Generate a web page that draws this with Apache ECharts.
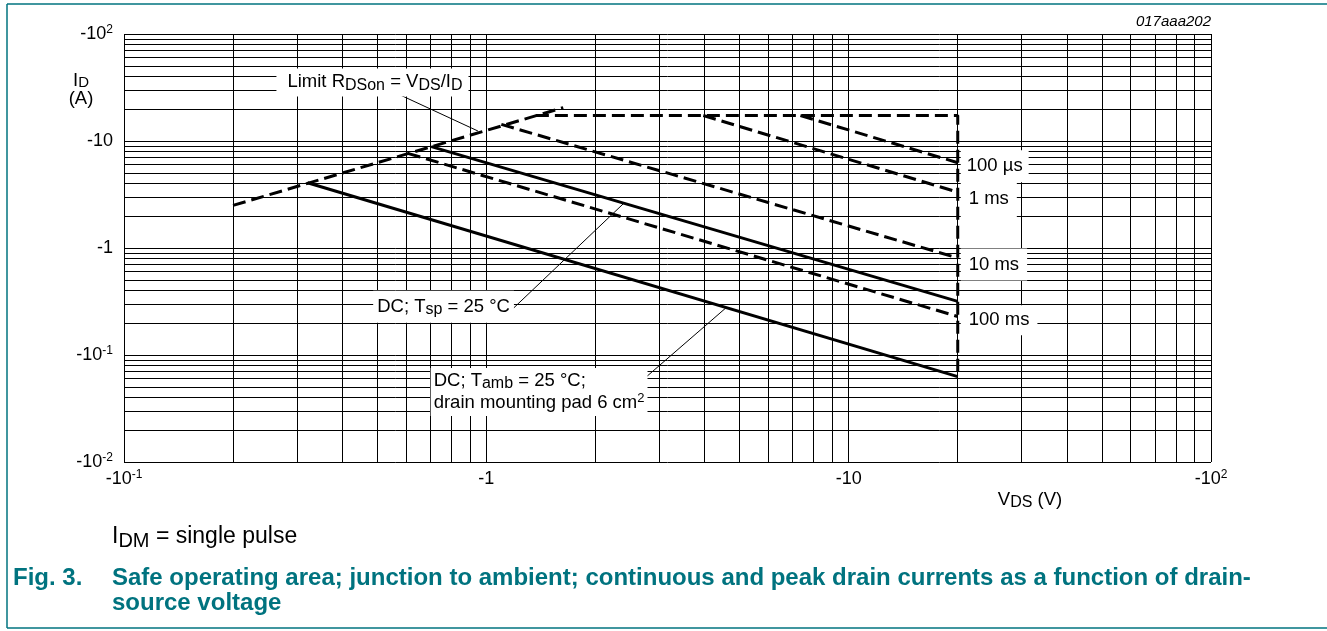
<!DOCTYPE html>
<html><head><meta charset="utf-8">
<script src="https://cdn.jsdelivr.net/npm/echarts@6/dist/echarts.min.js"></script>
<style>html,body{margin:0;padding:0;background:#fff}#c{width:1327px;height:631px}</style>
</head><body><div id="c"></div>
<script>
// ---- tick labels ----
const xTickValues = [0.1, 1, 10, 100];
const xTickLabels = ['-10{sup|-1}', '-1', '-10', '-10{sup|2}'];
const yTickValues = [0.01, 0.1, 1, 10, 100];
const yTickLabels = ['-10{sup|-2}', '-10{sup|-1}', '-1', '-10', '-10{sup|2}'];

// ---- log grid lines (values) ----
const xGridValues = [0.1,0.2,0.3,0.4,0.5,0.6,0.7,0.8,0.9,1,2,3,4,5,6,7,8,9,10,20,30,40,50,60,70,80,90,100];
const yGridValues = [0.01,0.02,0.03,0.04,0.05,0.06,0.07,0.08,0.09,0.1,0.2,0.3,0.4,0.5,0.6,0.7,0.8,0.9,1,2,3,4,5,6,7,8,9,10,20,30,40,50,60,70,80,90,100];

// ---- curves: [V_DS (V), I_D (A)] magnitudes ----
const limitRdson    = [[0.2, 2.5], [1.63, 20.5]];
const pulseEnvelope = [[1.37, 17.3], [20, 17.3], [20, 0.0628]];
const tp100us       = [[7.36, 17.3], [20, 6.27]];
const tp1ms         = [[3.97, 17.3], [20, 3.33]];
const tp10ms        = [[1.10, 14.3], [20, 0.807]];
const tp100ms       = [[0.607, 7.67], [20, 0.229]];
const dcTsp         = [[0.705, 8.85], [20, 0.317]];
const dcTamb        = [[0.321, 4.07], [20, 0.0628]];

const FONT = '"Liberation Sans", Arial, Helvetica, sans-serif';
const TEAL = '#00737f';

function tickFmt(vals, labels) {
  return function (v) {
    const i = vals.findIndex(t => Math.abs(Math.log10(t) - Math.log10(v)) < 1e-6);
    return i >= 0 ? labels[i] : '';
  };
}

const annRich = {
  sub: { fontSize: 16, lineHeight: 12, verticalAlign: 'bottom', fontFamily: FONT, color: '#000' },
  sup: { fontSize: 13, lineHeight: 12, verticalAlign: 'top', fontFamily: FONT, color: '#000' }
};
function ann(coord, text, position, padding, distance) {
  return {
    coord: coord, symbol: 'circle', symbolSize: 0,
    label: {
      show: true, formatter: text, position: position, distance: distance || 0,
      color: '#000', fontSize: 18.5, lineHeight: 22, fontFamily: FONT,
      backgroundColor: '#fff', padding: padding, rich: annRich, align: position === 'inside' ? 'center' : 'left'
    }
  };
}

const dashed = { color: '#000', width: 3, type: [13, 6] };
const solid = { color: '#000', width: 3, type: 'solid' };
function curve(name, data, style) {
  return { name: name, type: 'line', data: data, showSymbol: false, symbol: 'none',
    lineStyle: style, z: 4, silent: true, animation: false };
}

const tickSup = { fontSize: 12, lineHeight: 12, verticalAlign: 'top', fontFamily: FONT, color: '#000' };

const chart = echarts.init(document.getElementById('c'), null, { renderer: 'canvas' });
chart.setOption({
  animation: false,
  backgroundColor: '#fff',
  grid: { left: 124, right: 116, top: 34, bottom: 169, containLabel: false, outerBoundsMode: 'none' },
  xAxis: {
    type: 'log', logBase: 10, min: 0.1, max: 100,
    axisLine: { show: false }, axisTick: { show: false }, splitLine: { show: false },
    axisLabel: { show: true, showMinLabel: true, showMaxLabel: true, margin: 7,
      color: '#000', fontSize: 18, lineHeight: 21, fontFamily: FONT,
      formatter: tickFmt(xTickValues, xTickLabels), rich: { sup: tickSup } }
  },
  yAxis: {
    type: 'log', logBase: 10, min: 0.01, max: 100,
    axisLine: { show: false }, axisTick: { show: false }, splitLine: { show: false },
    axisLabel: { show: true, showMinLabel: true, showMaxLabel: true, margin: 11,
      color: '#000', fontSize: 18, lineHeight: 21, fontFamily: FONT,
      formatter: tickFmt(yTickValues, yTickLabels), rich: { sup: tickSup } }
  },
  series: [
    { name: 'grid', type: 'line', data: [], z: 1, silent: true, animation: false,
      markLine: { silent: true, animation: false, symbol: ['none', 'none'], label: { show: false },
        emphasis: { disabled: true },
        lineStyle: { color: '#000', width: 1, type: 'solid' },
        data: xGridValues.map(v => ({ xAxis: v })).concat(yGridValues.map(v => ({ yAxis: v }))) } },
    curve('Limit RDSon', limitRdson, dashed),
    curve('IDM envelope', pulseEnvelope, dashed),
    curve('100 µs', tp100us, dashed),
    curve('1 ms', tp1ms, dashed),
    curve('10 ms', tp10ms, dashed),
    curve('100 ms', tp100ms, dashed),
    curve('DC Tsp', dcTsp, solid),
    curve('DC Tamb', dcTamb, solid),
    { name: 'annotations', type: 'line', data: [], z: 3, silent: true, animation: false,
      markLine: { silent: true, animation: false, symbol: ['none', 'none'], label: { show: false },
        emphasis: { disabled: true },
        lineStyle: { color: '#000', width: 1, type: 'solid' },
        data: [
          [{ coord: [0.559, 28.4] }, { coord: [0.948, 12.4] }],
          [{ coord: [1.176, 0.265] }, { coord: [2.41, 2.67] }],
          [{ coord: [2.51, 0.0471] }, { coord: [4.58, 0.275] }]
        ] },
      markPoint: { silent: true, animation: false,
        data: [
          ann([0.485, 35.3], 'Limit R{sub|DSon} = V{sub|DS}/I{sub|D}', 'inside', [3, 6, 3, 11]),
          ann([20, 5.8], '100 µs', 'right', [5, 6], 3),
          ann([20, 2.85], '1 ms', 'right', [7, 8], 3),
          ann([20, 0.70], '10 ms', 'right', [5, 8], 3),
          ann([20, 0.211], '100 ms', 'right', [4, 8], 3),
          ann([0.762, 0.2825], 'DC; T{sub|sp} = 25 °C', 'inside', [5, 4]),
          ann([0.702, 0.0451], 'DC; T{sub|amb} = 25 °C;\ndrain mounting pad 6 cm{sup|2}', 'right', [2, 3], 0)
        ] } }
  ],
  graphic: [
    { type: 'line', silent: true, shape: { x1: 7, y1: 4, x2: 1327, y2: 4 }, style: { stroke: TEAL, lineWidth: 1.5 } },
    { type: 'line', silent: true, shape: { x1: 7, y1: 4, x2: 7, y2: 628 }, style: { stroke: TEAL, lineWidth: 1.5 } },
    { type: 'line', silent: true, shape: { x1: 7, y1: 628, x2: 1327, y2: 628 }, style: { stroke: TEAL, lineWidth: 1.5 } },
    { type: 'text', silent: true, x: 1211, y: 22, style: { text: '017aaa202', align: 'right', verticalAlign: 'middle',
        font: 'italic 15px ' + FONT, fill: '#000' } },
    { type: 'text', silent: true, x: 81, y: 72, style: { text: 'I{sub|D}\n(A)', align: 'center', verticalAlign: 'top',
        fontSize: 18.5, lineHeight: 18, fontFamily: FONT, fill: '#000',
        rich: { sub: { fontSize: 15, lineHeight: 9, verticalAlign: 'bottom', fontFamily: FONT, fill: '#000' } } } },
    { type: 'text', silent: true, x: 1030, y: 500, style: { text: 'V{sub|DS} (V)', align: 'center', verticalAlign: 'middle',
        fontSize: 18.5, lineHeight: 22, fontFamily: FONT, fill: '#000',
        rich: { sub: { fontSize: 16, lineHeight: 12, verticalAlign: 'bottom', fontFamily: FONT, fill: '#000' } } } },
    { type: 'text', silent: true, x: 112, y: 537, style: { text: 'I{sub|DM} = single pulse', align: 'left', verticalAlign: 'middle',
        fontSize: 23, lineHeight: 28, fontFamily: FONT, fill: '#000',
        rich: { sub: { fontSize: 20, lineHeight: 16, verticalAlign: 'bottom', fontFamily: FONT, fill: '#000' } } } },
    { type: 'text', silent: true, x: 13, y: 566, style: { text: 'Fig. 3.', align: 'left', verticalAlign: 'top',
        font: 'bold 24px ' + FONT, lineHeight: 25, fill: TEAL } },
    { type: 'text', silent: true, x: 112, y: 566, style: {
        text: 'Safe operating area; junction to ambient; continuous and peak drain currents as a function of drain-\nsource voltage',
        align: 'left', verticalAlign: 'top', font: 'bold 24px ' + FONT, lineHeight: 25, fill: TEAL } }
  ]
});
</script></body></html>
